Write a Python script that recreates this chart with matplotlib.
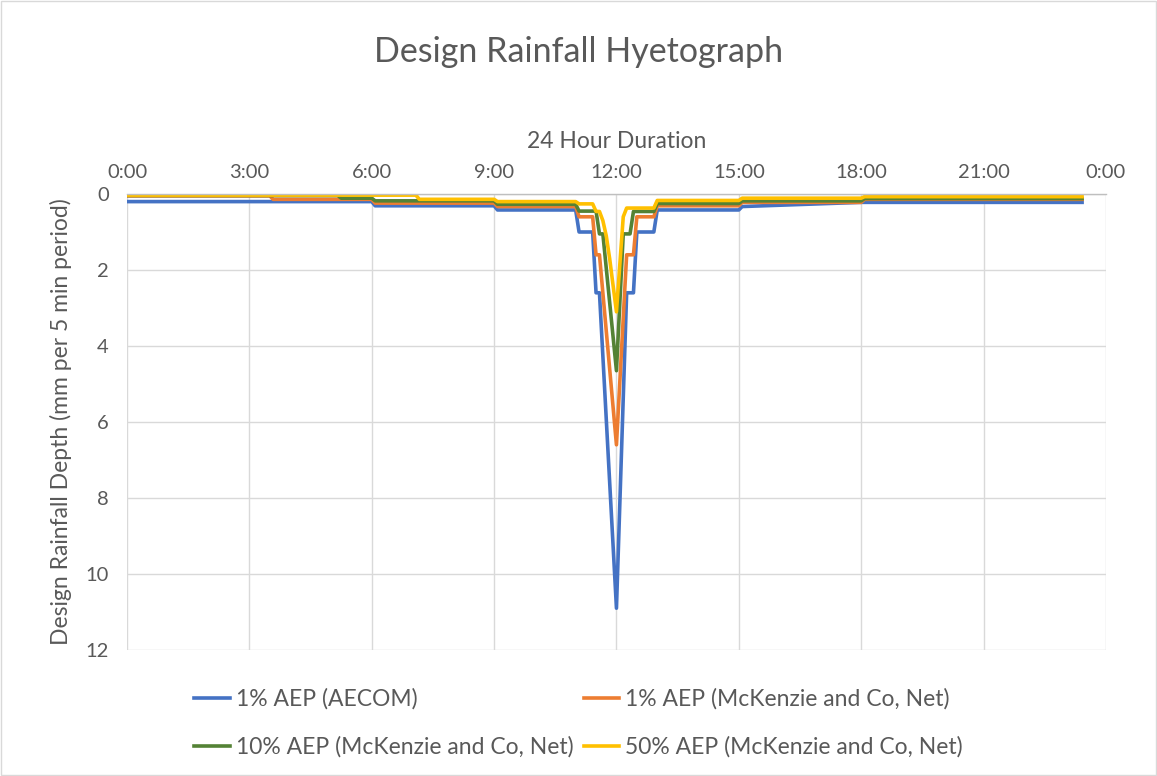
import numpy as np
import matplotlib
matplotlib.use("Agg")
import matplotlib.pyplot as plt
from matplotlib.patches import Rectangle

plt.rcParams['font.family'] = ['Lato', 'DejaVu Sans']

# time of day (H:MM) and rainfall depth per 5 min period (mm)
aecom_t = ["0:00", "6:00", "6:05", "9:00", "9:05", "11:00", "11:05", "11:25", "11:30", "11:35",
           "12:00", "12:15", "12:25", "12:30", "12:55", "13:00", "15:00", "15:05", "18:00", "23:25"]
aecom_v = [0.20, 0.20, 0.31, 0.31, 0.42, 0.42, 1.00, 1.00, 2.60, 2.60,
           10.9, 2.60, 2.60, 1.00, 1.00, 0.42, 0.42, 0.33, 0.22, 0.22]

mck1_t = ["0:00", "3:30", "3:35", "6:00", "6:05", "9:00", "9:05", "11:00", "11:05", "11:25", "11:30", "11:35",
          "12:00", "12:15", "12:25", "12:30", "12:55", "13:00", "15:00", "15:05", "18:00", "18:05", "23:25"]
mck1_v = [0.05, 0.05, 0.14, 0.14, 0.24, 0.24, 0.33, 0.33, 0.60, 0.60, 1.60, 1.60,
          6.60, 1.60, 1.60, 0.60, 0.60, 0.31, 0.31, 0.22, 0.22, 0.14, 0.14]

mck10_t = ["0:00", "5:10", "5:15", "6:00", "6:05", "9:00", "9:05", "11:00", "11:05", "11:30", "11:35", "11:40",
           "12:00", "12:10", "12:20", "12:25", "12:55", "13:00", "15:00", "15:05", "18:00", "18:05", "23:25"]
mck10_v = [0.04, 0.04, 0.11, 0.11, 0.18, 0.18, 0.27, 0.27, 0.45, 0.45, 1.05, 1.05,
           4.65, 1.05, 1.05, 0.46, 0.46, 0.25, 0.25, 0.18, 0.18, 0.12, 0.12]

mck50_t = ["0:00", "7:05", "7:10", "9:00", "9:05", "11:00", "11:05", "11:25", "11:30", "11:35", "11:40", "11:45",
           "11:50", "12:00", "12:10", "12:15", "12:55", "13:00", "15:00", "15:05", "18:00", "18:05", "23:25"]
mck50_v = [0.03, 0.03, 0.14, 0.14, 0.20, 0.20, 0.26, 0.26, 0.46, 0.46, 0.70, 1.10,
           1.70, 3.10, 0.60, 0.37, 0.37, 0.17, 0.17, 0.11, 0.11, 0.07, 0.07]

series_names = ["1% AEP (AECOM)", "1% AEP (McKenzie and Co, Net)",
                "10% AEP (McKenzie and Co, Net)", "50% AEP (McKenzie and Co, Net)"]
colors = ["#4472C4", "#ED7D31", "#548235", "#FFC000"]

tick_hours = [0, 3, 6, 9, 12, 15, 18, 21, 24]
tick_labels = ["0:00", "3:00", "6:00", "9:00", "12:00", "15:00", "18:00", "21:00", "0:00"]
y_ticks = [0, 2, 4, 6, 8, 10, 12]


def to_hours(times):
    out = []
    for s in times:
        h, m = s.split(":")
        out.append(int(h) + int(m) / 60.0)
    return np.array(out)


txt = "#595959"
fig = plt.figure(figsize=(11.57, 7.76), dpi=100)
fig.patches.append(Rectangle((0.001, 0.001), 0.998, 0.998, transform=fig.transFigure,
                             fill=False, edgecolor="#D9D9D9", linewidth=1))
ax = fig.add_axes([0.1098, 0.1624, 0.846, 0.5876])

data = [(aecom_t, aecom_v), (mck1_t, mck1_v), (mck10_t, mck10_v), (mck50_t, mck50_v)]
handles = []
for (t, v), name, c in zip(data, series_names, colors):
    ln, = ax.plot(to_hours(t), v, color=c, linewidth=2.6, label=name, solid_joinstyle="round")
    handles.append(ln)

ax.set_xlim(0, 24)
ax.set_ylim(12, 0)
ax.set_xticks(tick_hours)
ax.set_xticklabels(tick_labels)
ax.set_yticks(y_ticks)
ax.xaxis.tick_top()
ax.xaxis.set_label_position("top")
ax.tick_params(axis="both", length=0, labelsize=14.5, colors=txt)
ax.tick_params(axis="x", pad=9)
ax.tick_params(axis="y", pad=13)
ax.grid(True, color="#D9D9D9", linewidth=1)
ax.set_axisbelow(True)
for side in ["left", "right", "bottom"]:
    ax.spines[side].set_visible(False)
ax.spines["top"].set_color("#BFBFBF")
ax.spines["top"].set_linewidth(1)

ax.set_xlabel("24 Hour Duration", fontsize=16.5, color=txt, labelpad=12)
ax.set_ylabel("Design Rainfall Depth (mm per 5 min period)", fontsize=16.5, color=txt, labelpad=10)
fig.text(0.5, 0.933, "Design Rainfall Hyetograph", ha="center", va="center", fontsize=24.5, color=txt)

# legend filled row by row: AECOM, 1% McK / 10% McK, 50% McK
order = [0, 2, 1, 3]
leg = fig.legend([handles[i] for i in order], [series_names[i] for i in order],
                 loc="center", bbox_to_anchor=(0.5, 0.068), ncol=2, frameon=False,
                 fontsize=16.5, handlelength=1.55, handletextpad=0.25, columnspacing=0.45,
                 labelspacing=1.15)
for t in leg.get_texts():
    t.set_color(txt)

fig.savefig("out.png", dpi=100)
